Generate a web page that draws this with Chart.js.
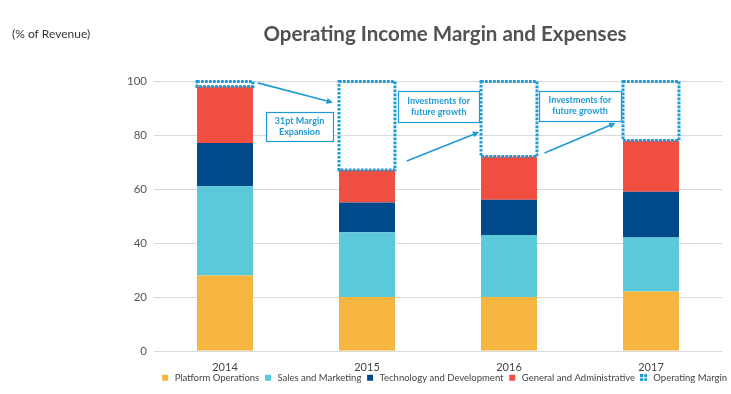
<!DOCTYPE html>
<html>
<head>
<meta charset="utf-8">
<script src="https://cdn.jsdelivr.net/npm/chart.js@4.4.1/dist/chart.umd.min.js"></script>
<style>
  html, body { margin: 0; padding: 0; background: #fff; }
  #wrap { width: 731px; height: 394px; position: relative; }
</style>
</head>
<body>
<div id="wrap"><canvas id="chart"></canvas></div>
<script>
const years = ['2014', '2015', '2016', '2017'];
const platformOps = [28, 20, 20, 22];
const salesMarketing = [33, 24, 23, 20];
const techDev = [16, 11, 13, 17];
const generalAdmin = [21, 12, 16, 19];
const operatingMargin = [2, 33, 28, 22];
const yTicks = [0, 20, 40, 60, 80, 100];

const BLUE = '#1e9ad6';

// callout boxes and arrows, in category index / value units
const callouts = [
  { lines: ['31pt Margin', 'Expansion'], x0: 0.29, x1: 0.76, y0: 88.5, y1: 77.8 },
  { lines: ['Investments for', 'future growth'], x0: 1.22, x1: 1.79, y0: 96.3, y1: 84.8 },
  { lines: ['Investments for', 'future growth'], x0: 2.21, x1: 2.79, y0: 96.3, y1: 85.2 }
];
const arrows = [
  { from: [0.23, 99.3], to: [0.76, 92.0] },
  { from: [1.28, 70.4], to: [1.79, 81.1] },
  { from: [2.25, 73.3], to: [2.75, 84.4] }
];

function marginIcon() {
  const c = document.createElement('canvas');
  c.width = 7; c.height = 7;
  const g = c.getContext('2d');
  g.fillStyle = BLUE;
  g.fillRect(0, 0, 3, 3); g.fillRect(4, 0, 3, 3);
  g.fillRect(0, 4, 3, 3); g.fillRect(4, 4, 3, 3);
  return c;
}

// nudge the legend to sit where the original has it
const legendNudge = {
  id: 'legendNudge',
  afterLayout(chart) {
    const lg = chart.legend;
    lg.left += 9; lg.right += 9;
    lg.top -= 4; lg.bottom -= 4;
  }
};

const overlay = {
  id: 'overlay',
  afterDatasetsDraw(chart) {
    const ctx = chart.ctx;
    const xs = chart.scales.x, ys = chart.scales.y;
    // dotted operating margin boxes
    const meta = chart.getDatasetMeta(4);
    ctx.save();
    ctx.strokeStyle = BLUE;
    ctx.lineWidth = 3;
    ctx.setLineDash([2.7, 1.3]);
    meta.data.forEach(bar => {
      const p = bar.getProps(['x', 'y', 'base', 'width'], true);
      ctx.strokeRect(p.x - p.width / 2, p.y + 0.5, p.width, p.base - p.y - 0.5);
    });
    ctx.restore();

    // arrows
    ctx.save();
    ctx.strokeStyle = BLUE;
    ctx.fillStyle = BLUE;
    ctx.lineWidth = 1.6;
    arrows.forEach(a => {
      const x0 = xs.getPixelForValue(a.from[0]), y0 = ys.getPixelForValue(a.from[1]);
      const x1 = xs.getPixelForValue(a.to[0]), y1 = ys.getPixelForValue(a.to[1]);
      const ang = Math.atan2(y1 - y0, x1 - x0);
      ctx.beginPath();
      ctx.moveTo(x0, y0);
      ctx.lineTo(x1 - 5 * Math.cos(ang), y1 - 5 * Math.sin(ang));
      ctx.stroke();
      ctx.beginPath();
      ctx.moveTo(x1, y1);
      ctx.lineTo(x1 - 7 * Math.cos(ang - 0.45), y1 - 7 * Math.sin(ang - 0.45));
      ctx.lineTo(x1 - 7 * Math.cos(ang + 0.45), y1 - 7 * Math.sin(ang + 0.45));
      ctx.closePath();
      ctx.fill();
    });
    ctx.restore();

    // callout boxes
    ctx.save();
    callouts.forEach(c => {
      const l = xs.getPixelForValue(c.x0), r = xs.getPixelForValue(c.x1);
      const t = ys.getPixelForValue(c.y0), b = ys.getPixelForValue(c.y1);
      ctx.fillStyle = '#fff';
      ctx.fillRect(l, t, r - l, b - t);
      ctx.strokeStyle = BLUE;
      ctx.lineWidth = 1.2;
      ctx.strokeRect(Math.round(l) + 0.5, Math.round(t) + 0.5, Math.round(r - l), Math.round(b - t));
      ctx.fillStyle = BLUE;
      ctx.font = 'bold 9px Lato';
      ctx.textAlign = 'center';
      ctx.textBaseline = 'middle';
      const cx = (l + r) / 2, cy = (t + b) / 2;
      ctx.fillText(c.lines[0], cx, cy - 5.5);
      ctx.fillText(c.lines[1], cx, cy + 5.5);
    });
    ctx.restore();

    // titles
    ctx.save();
    ctx.fillStyle = '#525254';
    ctx.font = 'bold 20.5px Lato';
    ctx.textAlign = 'center';
    ctx.textBaseline = 'middle';
    ctx.fillText('Operating Income Margin and Expenses', 445, 34);
    ctx.fillStyle = '#333';
    ctx.font = '12px Lato';
    ctx.textAlign = 'left';
    ctx.fillText('(% of Revenue)', 12, 34);
    ctx.restore();
  }
};

const barOpts = { barPercentage: 0.394, categoryPercentage: 1, borderWidth: 0 };

new Chart(document.getElementById('chart'), {
  type: 'bar',
  data: {
    labels: years,
    datasets: [
      { label: 'Platform Operations', data: platformOps, backgroundColor: '#f5b53f', ...barOpts },
      { label: 'Sales and Marketing', data: salesMarketing, backgroundColor: '#5bc9d9', ...barOpts },
      { label: 'Technology and Development', data: techDev, backgroundColor: '#004a8b', ...barOpts },
      { label: 'General and Administrative', data: generalAdmin, backgroundColor: '#f04f41', ...barOpts },
      { label: 'Operating Margin', data: operatingMargin, backgroundColor: 'rgba(0,0,0,0)', ...barOpts }
    ]
  },
  options: {
    responsive: true,
    maintainAspectRatio: false,
    animation: false,
    layout: { padding: { top: 81, right: 9, left: 0, bottom: 0.5 } },
    plugins: {
      title: { display: false },
      tooltip: { enabled: false },
      legend: {
        position: 'bottom',
        align: 'end',
        maxHeight: 20.5,
        labels: {
          usePointStyle: true,
          boxHeight: 6,
          padding: 4,
          color: '#444',
          font: { family: 'Lato', size: 9.5 },
          generateLabels(chart) {
            const items = Chart.defaults.plugins.legend.labels.generateLabels(chart);
            items.forEach((it, i) => {
              it.pointStyle = i === 4 ? marginIcon() : 'rect';
              it.lineWidth = 0;
              it.strokeStyle = 'rgba(0,0,0,0)';
            });
            return items;
          }
        }
      }
    },
    scales: {
      x: {
        stacked: true,
        grid: { display: false, drawTicks: false },
        border: { display: false },
        ticks: { color: '#444', font: { family: 'Lato', size: 11, lineHeight: 1 }, padding: 11 },
        afterFit(scale) { scale.height = 22; }
      },
      y: {
        stacked: true,
        min: 0,
        max: 100,
        afterBuildTicks(scale) { scale.ticks = yTicks.map(v => ({ value: v })); },
        grid: { color: '#d9d9d9', drawTicks: false, lineWidth: 1 },
        border: { display: false },
        ticks: { color: '#555', font: { family: 'Lato', size: 11.5 }, padding: 7 },
        afterFit(scale) { scale.width = 154; }
      }
    }
  },
  plugins: [legendNudge, overlay]
});
</script>
</body>
</html>
